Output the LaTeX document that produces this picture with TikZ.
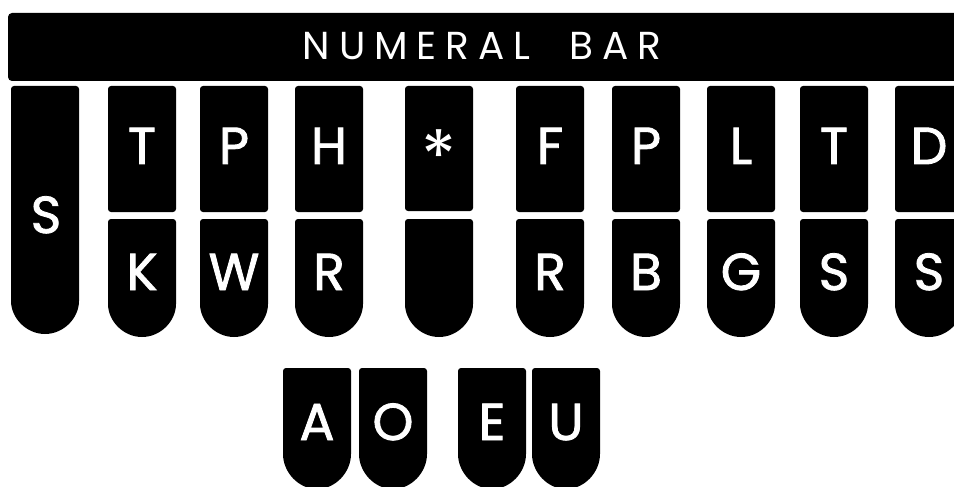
\documentclass[tikz,border=0pt]{standalone}
\usepackage{fontspec}
\setmainfont{Poppins}

\begin{document}
\begin{tikzpicture}[x=1pt, y=-1pt]
    \definecolor{keyColour}{HTML}{000000}
    \definecolor{letterColour}{HTML}{FFFFFF}

    \def\keyWidth{68}
    \def\halfWidth{34}

    \tikzset{
        keylabel/.style={text=letterColour, anchor=base, inner sep=0pt,
            font=\fontsize{52}{52}\selectfont\addfontfeature{FakeBold=1.6}},
        barlabel/.style={text=letterColour, anchor=base, inner sep=0pt,
            font=\fontsize{39}{39}\selectfont\addfontfeature{LetterSpace=23}},
        keycap/.style={fill=keyColour, rounded corners=3pt}
    }

    % Upper key: square block
    \newcommand{\upperkey}[3]{%
        \fill[keycap] (#1,#2) rectangle ({#1+\keyWidth},#3);}
    % Lower key: round bottom
    \newcommand{\lowerkey}[4]{%
        \fill[keycap] (#1,#2) -- ({#1+\keyWidth},#2) -- ({#1+\keyWidth},{#3-#4})
            arc[start angle=0, end angle=180, x radius=\halfWidth, y radius=#4] -- cycle;}

    \clip (0,0) rectangle (954,487);

    % Draw numeral bar
    \fill[keyColour, rounded corners=4pt] (8,13) rectangle (980,81);
    \node[barlabel] (bar) at (482,60) {NUMERAL~~BAR};

    % Left S key
    \lowerkey{11}{86}{334}{36}
    \node[keylabel] (sLeft) at (46,233) {S};

    % Consonant keys, upper and lower row
    \foreach \x/\up/\low/\name in {108/T/K/t, 200/P/W/p, 295/H/R/h, 516/F/R/f,
                                   612/P/B/pp, 707/L/G/l, 800/T/S/tt, 895/D/S/d} {
        \upperkey{\x}{86}{212}
        \lowerkey{\x}{219}{337}{36}
        \node[keylabel] (\name Up) at ({\x+\halfWidth},164) {\up};
        \node[keylabel] (\name Low) at ({\x+\halfWidth},290) {\low};
    }

    % Star key
    \upperkey{405}{86}{211}
    \lowerkey{405}{219}{337}{36}
    \node[keylabel, font=\fontsize{72}{72}\selectfont] (star) at (439,182) {*};

    % Vowel keys
    \foreach \x/\vowel in {283/A, 359/O, 458/E, 532/U} {
        \lowerkey{\x}{368}{489}{38}
        \node[keylabel] (vowel\vowel) at ({\x+\halfWidth},440) {\vowel};
    }

\end{tikzpicture}
\end{document}
